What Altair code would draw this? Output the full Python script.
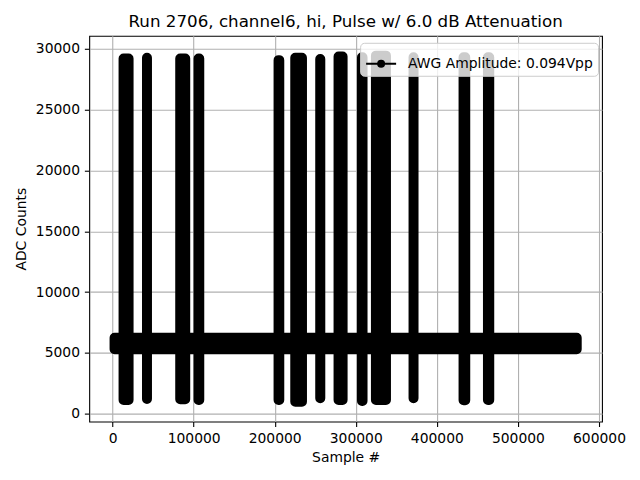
import altair as alt
import pandas as pd

# Burst regions (sample index range and ADC count range)
burst_start = [11100, 40000, 81000, 103600, 202300, 222900, 253700, 276300, 305200, 322400, 368800, 430500, 460600]
burst_end = [22200, 44900, 92100, 109400, 208100, 236100, 258700, 286200, 310800, 339700, 373700, 437500, 467100]
burst_min = [960, 1040, 1020, 960, 960, 820, 1100, 960, 880, 960, 1100, 940, 960]
burst_max = [29370, 29420, 29370, 29370, 29230, 29420, 29320, 29520, 29470, 29600, 29470, 29470, 29470]

# Baseline pedestal band
base_start = [0]
base_end = [575000]
base_min = [5130]
base_max = [6410]

series_name = "AWG Amplitude: 0.094Vpp"

x_ticks = [0, 100000, 200000, 300000, 400000, 500000, 600000]
y_ticks = [0, 5000, 10000, 15000, 20000, 25000, 30000]

rows = []
for s, e, lo, hi in zip(base_start, base_end, base_min, base_max):
    rows.append(dict(x=s, x2=e, y=lo, y2=hi, series=series_name))
for s, e, lo, hi in zip(burst_start, burst_end, burst_min, burst_max):
    rows.append(dict(x=s, x2=e, y=lo, y2=hi, series=series_name))
df = pd.DataFrame(rows)

FONT = "DejaVu Sans"

legend_path = "M-1,0L1,0M-0.2,0A0.2,0.2 0 1,1 0.2,0A0.2,0.2 0 1,1 -0.2,0Z"

chart = alt.Chart(df).mark_rect(
    stroke="black", strokeWidth=6, strokeJoin="round", cornerRadius=2
).encode(
    x=alt.X("x:Q", title="Sample #",
            scale=alt.Scale(domain=[-28750, 603750], nice=False, zero=False),
            axis=alt.Axis(values=x_ticks, format="d")),
    x2="x2:Q",
    y=alt.Y("y:Q", title="ADC Counts",
            scale=alt.Scale(domain=[-657, 31068], nice=False, zero=False),
            axis=alt.Axis(values=y_ticks, format="d")),
    y2="y2:Q",
    color=alt.Color("series:N", scale=alt.Scale(range=["black"]),
                    legend=alt.Legend(
                        title=None, orient="none", legendX=271, legendY=7,
                        symbolType=legend_path, symbolSize=900,
                        symbolStrokeWidth=2, symbolStrokeColor="black",
                        symbolFillColor="black",
                        labelFont=FONT, labelFontSize=13.9, labelColor="black",
                        labelOffset=11, labelLimit=400, padding=5,
                        fillColor="rgba(255,255,255,0.8)", strokeColor="#cccccc",
                        cornerRadius=4)),
).properties(
    width=513,
    height=386,
    title=alt.TitleParams("Run 2706, channel6, hi, Pulse w/ 6.0 dB Attenuation",
                          font=FONT, fontSize=16.7, fontWeight="normal",
                          color="black", anchor="middle", offset=5),
    autosize=alt.AutoSizeParams(type="none"),
    padding={"left": 81.3, "top": 27.7, "right": 30, "bottom": 50},
).configure_view(
    stroke="black", strokeWidth=1.1
).configure_axis(
    grid=True, gridColor="#b0b0b0", gridWidth=1.1,
    domain=False, ticks=True, tickColor="black", tickSize=4.9, tickWidth=1.1,
    labelFont=FONT, labelFontSize=13.9, labelColor="black", labelPadding=4.9,
    titleFont=FONT, titleFontSize=13.9, titleFontWeight="normal", titleColor="black",
).configure_axisX(titlePadding=5).configure_axisY(titlePadding=7)

chart.save("out.html", embed_options={"renderer": "svg", "actions": False})
